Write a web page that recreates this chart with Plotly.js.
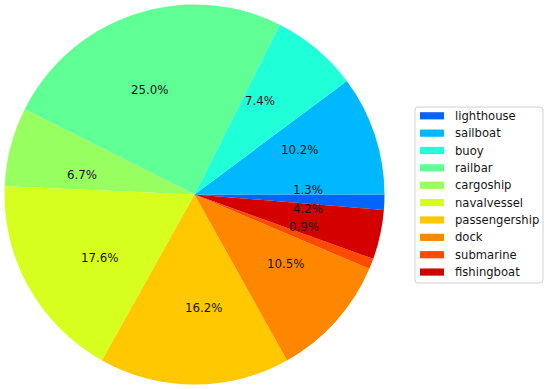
<!DOCTYPE html>
<html>
<head>
<meta charset="utf-8">
<script src="https://cdn.plot.ly/plotly-3.0.1.min.js"></script>
<style>html,body{margin:0;padding:0;background:#fff;}#chart{width:550px;height:389px;}</style>
</head>
<body>
<div id="chart"></div>
<script>
const categories = ["lighthouse","sailboat","buoy","railbar","cargoship","navalvessel","passengership","dock","submarine","fishingboat"];
const shares = [1.3,10.2,7.4,25.0,6.7,17.6,16.2,10.5,0.9,4.2];
const colors = ["#0064ff","#00b8ff","#1fffd8","#60ff96","#97ff60","#d6ff1f","#ffc800","#ff8700","#ff4a00","#d40000"];

const W = 550, H = 389;
const cx = 194.5, cy = 194.5, R = 190;
const fx = px => px/W, fy = py => 1 - py/H;

const total = shares.reduce((a,b)=>a+b,0);
const annotations = [];
const shapes = [];
let cum = 0;
shares.forEach((v,i)=>{
  const mid = (cum + v/2)/total*2*Math.PI;
  cum += v;
  const px = cx + 0.6*R*Math.cos(mid);
  const py = cy - 0.6*R*Math.sin(mid);
  annotations.push({
    x: fx(px), y: fy(py), xref:'paper', yref:'paper',
    text: (v/total*100).toFixed(1) + '%', showarrow:false,
    xanchor:'center', yanchor:'middle',
    font:{family:'DejaVu Sans', size:11.8, color:'#151515'}
  });
});

// legend box (matplotlib style, rounded corners)
const L = 415, T = 107, Rr = 543, B = 283, rc = 3;
shapes.push({type:'path', xref:'paper', yref:'paper',
  path:`M ${fx(L+rc)},${fy(T)} L ${fx(Rr-rc)},${fy(T)} Q ${fx(Rr)},${fy(T)} ${fx(Rr)},${fy(T+rc)} L ${fx(Rr)},${fy(B-rc)} Q ${fx(Rr)},${fy(B)} ${fx(Rr-rc)},${fy(B)} L ${fx(L+rc)},${fy(B)} Q ${fx(L)},${fy(B)} ${fx(L)},${fy(B-rc)} L ${fx(L)},${fy(T+rc)} Q ${fx(L)},${fy(T)} ${fx(L+rc)},${fy(T)} Z`,
  line:{color:'#d0d0d0', width:1}, fillcolor:'rgba(255,255,255,0.8)', layer:'above'});
const row0 = 115.8, rowStep = 17.36;
categories.forEach((c,i)=>{
  const yc = row0 + i*rowStep;
  shapes.push({type:'rect', xref:'paper', yref:'paper',
    x0:fx(420), x1:fx(444), y0:fy(yc-3.6), y1:fy(yc+3.6),
    fillcolor:colors[i], line:{width:0}, layer:'above'});
  annotations.push({x:fx(453), y:fy(yc), xref:'paper', yref:'paper',
    text:c, showarrow:false, xanchor:'left', yanchor:'middle',
    font:{family:'DejaVu Sans', size:11.6, color:'#151515'}});
});

const trace = {
  type:'pie', labels:categories, values:shares, sort:false,
  direction:'counterclockwise', rotation:90,
  marker:{colors:colors, line:{width:0}},
  textinfo:'none', hoverinfo:'label+percent',
  domain:{x:[fx(cx-R),fx(cx+R)], y:[fy(cy+R), fy(cy-R)]}
};

const layout = {
  width:W, height:H,
  margin:{l:0,r:0,t:0,b:0},
  paper_bgcolor:'#fff',
  showlegend:false,
  shapes:shapes,
  annotations:annotations
};
Plotly.newPlot('chart',[trace],layout,{displayModeBar:false,staticPlot:true});
</script>
</body>
</html>
